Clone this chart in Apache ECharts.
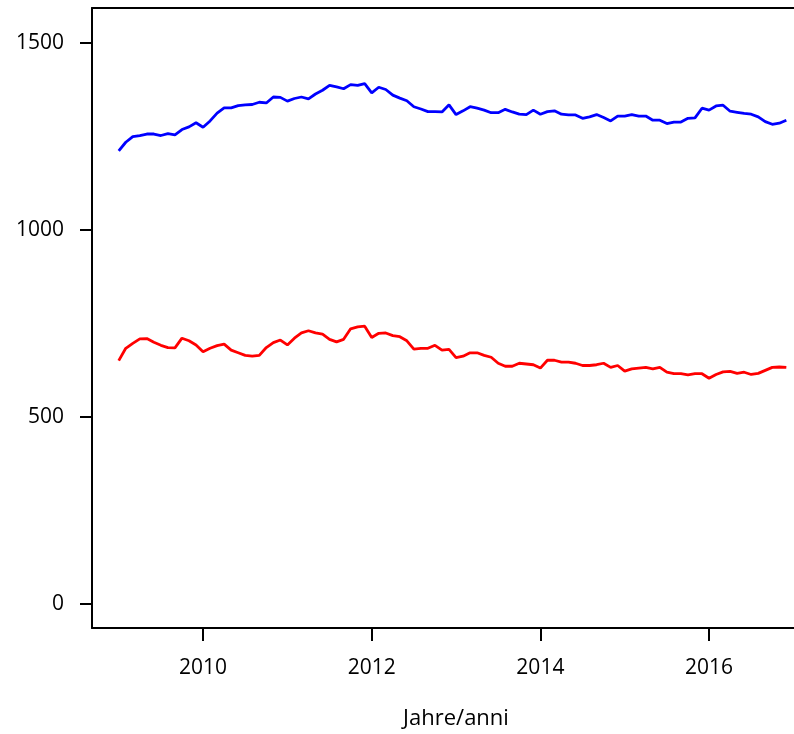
<!DOCTYPE html>
<html>
<head>
<meta charset="utf-8">
<script src="https://cdn.jsdelivr.net/npm/echarts@6/dist/echarts.min.js"></script>
<style>
  html, body { margin: 0; padding: 0; background: #fff; }
  #chart { width: 794px; height: 734px; }
</style>
</head>
<body>
<div id="chart"></div>
<script>
// Monthly data, January 2009 to December 2016
const startYear = 2009;
const blueValues = [
  1212, 1235, 1250, 1253, 1257, 1257, 1253, 1258, 1255, 1269, 1276, 1287,
  1275, 1292, 1313, 1327, 1327, 1333, 1335, 1336, 1342, 1340, 1356, 1355,
  1345, 1352, 1356, 1351, 1364, 1374, 1387, 1383, 1378, 1389, 1387, 1392,
  1367, 1382, 1376, 1361, 1353, 1346, 1330, 1324, 1317, 1317, 1316, 1335,
  1309, 1319, 1330, 1326, 1321, 1314, 1314, 1323, 1316, 1310, 1309, 1321,
  1310, 1317, 1319, 1310, 1308, 1308, 1299, 1303, 1309, 1301, 1292, 1305,
  1305, 1309, 1305, 1305, 1294, 1294, 1285, 1289, 1289, 1299, 1300, 1326,
  1321, 1332, 1334, 1318, 1315, 1312, 1310, 1303, 1290, 1283, 1286, 1294
];
const redValues = [
  651, 684, 697, 709, 710, 700, 692, 686, 685, 711, 704, 693,
  675, 684, 691, 695, 679, 672, 665, 663, 665, 686, 699, 706,
  693, 711, 725, 731, 725, 722, 708, 701, 708, 736, 741, 743,
  713, 724, 725, 718, 715, 704, 682, 684, 684, 692, 679, 681,
  659, 663, 672, 672, 665, 660, 644, 636, 636, 644, 642, 640,
  631, 652, 652, 647, 647, 644, 638, 638, 640, 644, 633, 638,
  623, 629, 631, 633, 629, 633, 620, 616, 616, 613, 616, 616,
  604, 614, 621, 622, 617, 620, 614, 617, 625, 633, 634, 633
];
const xTicks = [2010, 2012, 2014, 2016];
const yTicks = [0, 500, 1000, 1500];
const xTitle = 'Jahre/anni';

function toPairs(values) {
  return values.map((v, i) => [startYear + i / 12, v]);
}

const chart = echarts.init(document.getElementById('chart'), null, { renderer: 'canvas' });
const font = '"Open Sans", "DejaVu Sans", sans-serif';
const black = { color: '#000', width: 2 };

chart.setOption({
  animation: false,
  backgroundColor: '#ffffff',
  grid: { left: 92, top: 8, width: 702, height: 620, show: false },
  xAxis: [{
    type: 'value', position: 'bottom',
    min: 2008.683, max: 2017.0075,
    axisLine: { show: true, onZero: false, lineStyle: black },
    axisTick: { show: true, customValues: xTicks, length: 13, inside: false, lineStyle: black },
    axisLabel: { show: true, customValues: xTicks, margin: 30, fontSize: 21, color: '#000', fontFamily: font,
      formatter: v => String(Math.round(v)) },
    splitLine: { show: false }
  }, {
    type: 'value', position: 'top',
    min: 2008.683, max: 2017.0075,
    axisLine: { show: true, onZero: false, lineStyle: black },
    axisTick: { show: false }, axisLabel: { show: false }, splitLine: { show: false }
  }],
  yAxis: {
    type: 'value',
    min: -64, max: 1594,
    axisLine: { show: true, onZero: false, lineStyle: black },
    axisTick: { show: true, customValues: yTicks, length: 12, inside: false, lineStyle: black },
    axisLabel: { show: true, customValues: yTicks, margin: 28, fontSize: 21, color: '#000', fontFamily: font,
      formatter: v => String(Math.round(v)) },
    splitLine: { show: false }
  },
  graphic: [{
    type: 'text', x: 456, y: 719,
    style: { text: xTitle, fontSize: 22, fontFamily: font, fill: '#000', align: 'center', verticalAlign: 'middle' }
  }],
  series: [
    { name: 'blau', type: 'line', xAxisIndex: 0, data: toPairs(blueValues), showSymbol: false, symbol: 'none',
      lineStyle: { color: '#0000ff', width: 2.8 }, itemStyle: { color: '#0000ff' } },
    { name: 'rot', type: 'line', xAxisIndex: 0, data: toPairs(redValues), showSymbol: false, symbol: 'none',
      lineStyle: { color: '#ff0000', width: 2.8 }, itemStyle: { color: '#ff0000' } }
  ]
});
</script>
</body>
</html>
